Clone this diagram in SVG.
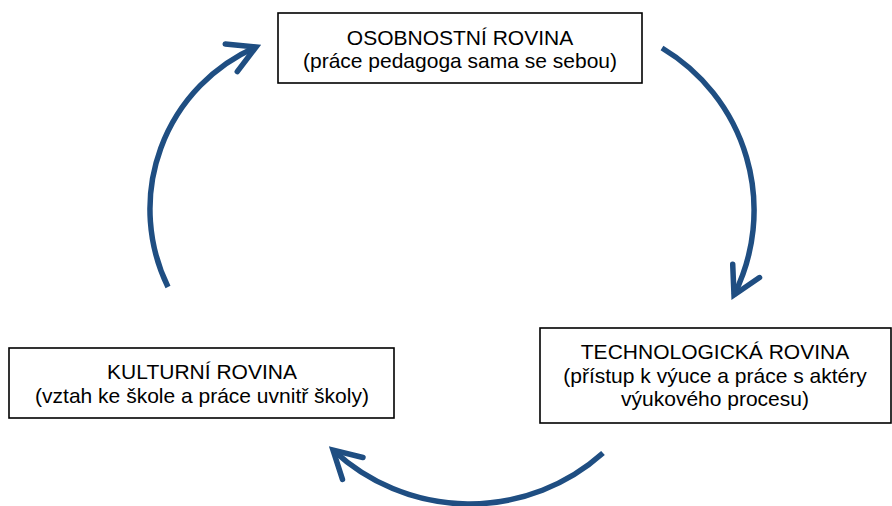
<svg xmlns="http://www.w3.org/2000/svg" width="892" height="506" viewBox="0 0 892 506">
<defs>
<style>
.box{fill:#fff;stroke:#000;stroke-width:1.6}
.t{font-family:"Liberation Sans",Arial,sans-serif;font-size:21px;fill:#000;text-anchor:middle}
.arc{fill:none;stroke:#1f4e82;stroke-width:5.5}
</style>
<marker id="ah" markerUnits="userSpaceOnUse" markerWidth="60" markerHeight="60" refX="0" refY="0" orient="auto" overflow="visible">
<path d="M-27,-15 L0,0 L-27,15" fill="none" stroke="#1f4e82" stroke-width="5.5" stroke-linecap="round" stroke-linejoin="miter"/>
</marker>
</defs>
<rect width="892" height="506" fill="#fff"/>
<g id="connectors">
<path class="arc" d="M168,287 A177,177 0 0 1 256,47" marker-end="url(#ah)"/>
<path class="arc" d="M662,48 A189,189 0 0 1 734,295" marker-end="url(#ah)"/>
<path class="arc" d="M603,453 A200,200 0 0 1 333,450" marker-end="url(#ah)"/>
</g>
<g id="osobnostni">
<rect class="box" x="278" y="13" width="364" height="70"/>
<text class="t" x="460" y="45">OSOBNOSTNÍ ROVINA</text>
<text class="t" x="460" y="68">(práce pedagoga sama se sebou)</text>
</g>
<g id="technologicka">
<rect class="box" x="540" y="328" width="351" height="95"/>
<text class="t" x="715" y="359">TECHNOLOGICKÁ ROVINA</text>
<text class="t" x="715" y="383">(přístup k výuce a práce s aktéry</text>
<text class="t" x="715" y="406">výukového procesu)</text>
</g>
<g id="kulturni">
<rect class="box" x="9" y="348" width="385" height="70"/>
<text class="t" x="202" y="379">KULTURNÍ ROVINA</text>
<text class="t" x="202" y="403">(vztah ke škole a práce uvnitř školy)</text>
</g>
</svg>
